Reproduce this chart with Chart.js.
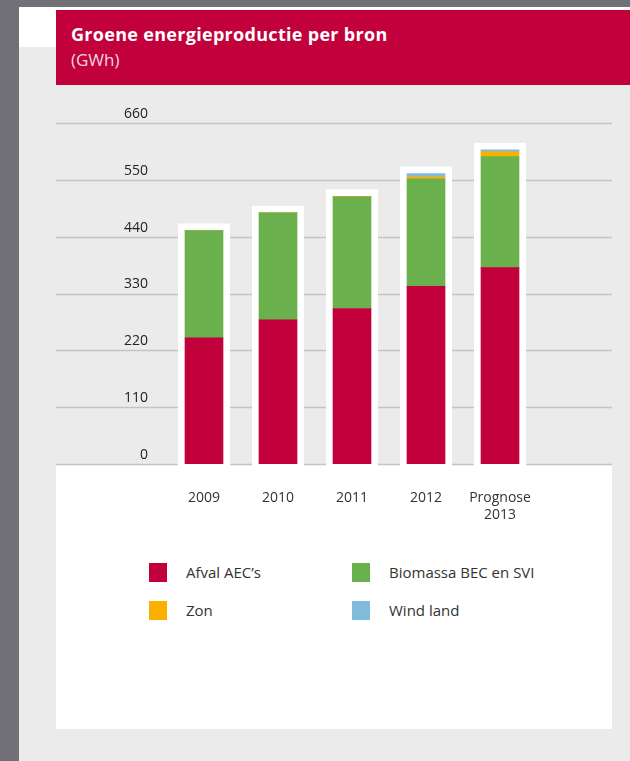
<!DOCTYPE html>
<html>
<head>
<meta charset="utf-8">
<script src="https://cdn.jsdelivr.net/npm/chart.js@4/dist/chart.umd.min.js"></script>
<style>
    body { margin: 0; width: 630px; height: 761px; background: #ebebeb; position: relative; overflow: hidden; font-family: "Open Sans", Lato, sans-serif; }
    .strip-left { position: absolute; left: 0; top: 0; width: 19px; height: 761px; background: #707076; }
    .strip-top { position: absolute; left: 0; top: 0; width: 630px; height: 7px; background: #707076; }
    .band { position: absolute; left: 19px; top: 7px; width: 611px; height: 40px; background: #ffffff; }
    .header { position: absolute; left: 56px; top: 10px; width: 574px; height: 75px; background: #c2003b; color: #fff; }
    .header .title { position: absolute; left: 15px; top: 12px; font-size: 18px; font-weight: 700; letter-spacing: 0.3px; }
    .header .unit { position: absolute; left: 15px; top: 38px; font-size: 17px; color: #f4d6de; }
    .panel { position: absolute; left: 56px; top: 464px; width: 556px; height: 265px; background: #ffffff; }
    .chart-box { position: absolute; left: 56px; top: 85px; width: 556px; height: 455px; }
    .legend-item { position: absolute; font-size: 15px; color: #333; }
    .legend-item .swatch { position: absolute; left: 0; top: 0; width: 18px; height: 19px; }
    .legend-item .text { position: absolute; left: 37px; top: -1px; white-space: nowrap; }
</style>
</head>
<body>
<div class="strip-left"></div>
<div class="strip-top"></div>
<div class="band"></div>
<div class="header">
    <div class="title">Groene energieproductie per bron</div>
    <div class="unit">(GWh)</div>
</div>
<div class="panel"></div>
<div class="chart-box"><canvas id="chart" width="556" height="455"></canvas></div>
<div id="legend"></div>

<script>
// Categories and values (GWh)
const categories = ['2009', '2010', '2011', '2012', ['Prognose', '2013']];
const afval = [244, 279, 301, 344, 380];
const biomassa = [208, 207, 216, 208, 215];
const zon = [0, 0, 1, 4, 9];
const wind = [0, 0, 0, 6, 4];
const yTicks = [0, 110, 220, 330, 440, 550, 660];

const seriesNames = ["Afval AEC\u2019s", 'Biomassa BEC en SVI', 'Zon', 'Wind land'];
const seriesColors = ['#c2003b', '#6ab04c', '#fbb000', '#80bbdc'];

// Full-width gridlines, then white frames behind each stack
const backdropPlugin = {
    id: 'backdrop',
    beforeDatasetsDraw(chart) {
        const ctx = chart.ctx;
        const y = chart.scales.y;
        const area = chart.chartArea;
        ctx.save();
        ctx.strokeStyle = '#c4c4c4';
        ctx.lineWidth = 1.5;
        yTicks.forEach(v => {
            const py = Math.round(y.getPixelForValue(v)) + 0.5;
            ctx.beginPath();
            ctx.moveTo(0, py);
            ctx.lineTo(chart.width, py);
            ctx.stroke();
        });

        ctx.fillStyle = '#ffffff';
        const pad = 7;
        categories.forEach((c, i) => {
            let top = area.bottom;
            let left = null, right = null;
            chart.data.datasets.forEach((ds, d) => {
                const el = chart.getDatasetMeta(d).data[i];
                if (!el) return;
                const props = el.getProps(['x', 'y', 'width'], true);
                if (left === null) {
                    left = props.x - props.width / 2;
                    right = props.x + props.width / 2;
                }
                if (ds.data[i] > 0) top = Math.min(top, props.y);
            });
            ctx.fillRect(left - pad, top - pad, right - left + pad * 2, area.bottom - top + pad + 2);
        });
        ctx.restore();
    }
};

const chart = new Chart(document.getElementById('chart'), {
    type: 'bar',
    data: {
        labels: categories,
        datasets: [
            { label: seriesNames[0], data: afval, backgroundColor: seriesColors[0] },
            { label: seriesNames[1], data: biomassa, backgroundColor: seriesColors[1] },
            { label: seriesNames[2], data: zon, backgroundColor: seriesColors[2] },
            { label: seriesNames[3], data: wind, backgroundColor: seriesColors[3] }
        ]
    },
    options: {
        responsive: false,
        animation: false,
        layout: { padding: { top: 38, right: 75, left: 0, bottom: 0 } },
        datasets: { bar: { barThickness: 38, borderWidth: 0 } },
        plugins: {
            legend: { display: false },
            tooltip: { enabled: false }
        },
        scales: {
            x: {
                stacked: true,
                grid: { display: false, drawTicks: false },
                border: { display: false },
                ticks: {
                    color: '#333',
                    padding: 26,
                    font: { family: 'Open Sans', size: 14, lineHeight: 1.2 },
                    maxRotation: 0
                },
                afterFit(scale) { scale.height = 76; }
            },
            y: {
                stacked: true,
                min: 0,
                max: 660,
                grid: { display: false, drawTicks: false },
                border: { display: false },
                afterBuildTicks(scale) { scale.ticks = yTicks.map(v => ({ value: v })); },
                afterFit(scale) { scale.width = 111; },
                ticks: {
                    color: '#222',
                    padding: 19,
                    labelOffset: -9,
                    font: { family: 'Open Sans', size: 14 }
                }
            }
        }
    },
    plugins: [backdropPlugin]
});

// Legend built from the chart's datasets, two columns
const legendPos = [[149, 563], [352, 563], [149, 601], [352, 601]];
const legend = document.getElementById('legend');
chart.data.datasets.forEach((ds, i) => {
    const item = document.createElement('div');
    item.className = 'legend-item';
    item.style.left = legendPos[i][0] + 'px';
    item.style.top = legendPos[i][1] + 'px';
    item.innerHTML = '<div class="swatch" style="background:' + ds.backgroundColor + '"></div>' +
        '<div class="text">' + ds.label + '</div>';
    legend.appendChild(item);
});
</script>
</body>
</html>
